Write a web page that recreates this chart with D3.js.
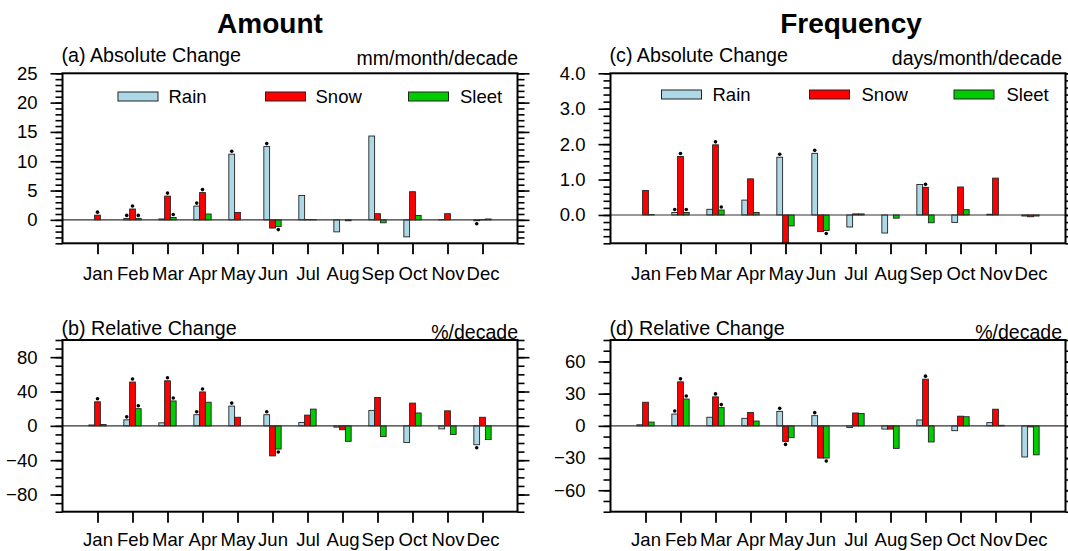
<!DOCTYPE html>
<html>
<head>
<meta charset="utf-8">
<script src="https://cdn.jsdelivr.net/npm/d3@7"></script>
<style>
  html, body { margin: 0; padding: 0; background: #fff; }
  svg { display: block; font-family: "Liberation Sans", Arial, Helvetica, sans-serif; }
</style>
</head>
<body>
<svg id="chart" width="1068" height="551"></svg>
<script>
// Month labels and precipitation types
const months = ["Jan","Feb","Mar","Apr","May","Jun","Jul","Aug","Sep","Oct","Nov","Dec"];
const seriesNames = ["Rain","Snow","Sleet"];
const seriesColors = ["#add8e6","#ff0000","#00cc00"];

// (a) Amount, absolute change (mm/month/decade)
const amountAbsRain  = [0, 0.25, 0.15, 2.35, 11.2, 12.5, 4.15, -2.05, 14.3, -2.9, 0.05, -0.15];
const amountAbsSnow  = [0.8, 1.85, 4.05, 4.65, 1.25, -1.4, 0.05, 0, 1.05, 4.8, 1.05, 0.05];
const amountAbsSleet = [0, 0.25, 0.4, 1.0, 0, -1.15, 0.05, -0.15, -0.5, 0.75, 0, 0.15];
const amountAbsSigRain  = [0,1,0,1,1,1,0,0,0,0,0,1];
const amountAbsSigSnow  = [1,1,1,1,0,0,0,0,0,0,0,0];
const amountAbsSigSleet = [0,1,1,0,0,1,0,0,0,0,0,0];

// (b) Amount, relative change (%/decade)
const amountRelRain  = [1, 7, 3.5, 13, 23, 13, 4, -1.5, 18, -19.5, -3.5, -22];
const amountRelSnow  = [28, 51, 52.5, 39.5, 10, -35, 12.5, -4.5, 33, 26.5, 17.5, 10];
const amountRelSleet = [1.5, 20, 29, 27.5, 0, -27, 19.5, -18, -12.5, 15, -10, -16];
const amountRelSigRain  = [0,1,0,1,1,1,0,0,0,0,0,1];
const amountRelSigSnow  = [1,1,1,1,0,0,0,0,0,0,0,0];
const amountRelSigSleet = [0,1,1,0,0,1,0,0,0,0,0,0];

// (c) Frequency, absolute change (days/month/decade)
const freqAbsRain  = [0, 0.07, 0.16, 0.42, 1.63, 1.74, -0.34, -0.51, 0.86, -0.21, 0.02, -0.03];
const freqAbsSnow  = [0.69, 1.65, 1.98, 1.02, -0.85, -0.47, 0.03, 0, 0.78, 0.79, 1.04, -0.05];
const freqAbsSleet = [0.01, 0.07, 0.14, 0.07, -0.31, -0.44, 0.03, -0.09, -0.22, 0.15, 0, -0.03];
const freqAbsSigRain  = [0,1,0,0,1,1,0,0,0,0,0,0];
const freqAbsSigSnow  = [0,1,1,0,0,0,0,0,1,0,0,0];
const freqAbsSigSleet = [0,1,1,0,0,1,0,0,0,0,0,0];

// (d) Frequency, relative change (%/decade)
const freqRelRain  = [1, 11, 8, 7, 13.5, 9.5, -1.5, -3, 5.5, -4.5, 3, -29];
const freqRelSnow  = [22, 41, 27, 12.5, -14.5, -30, 12, -3, 43.5, 9, 15.5, -1];
const freqRelSleet = [3.5, 25, 17, 4.5, -11, -30, 11.5, -21, -15, 8.5, 0.5, -27];
const freqRelSigRain  = [0,1,0,0,1,1,0,0,0,0,0,0];
const freqRelSigSnow  = [0,1,1,0,1,0,0,0,1,0,0,0];
const freqRelSigSleet = [0,1,1,0,0,1,0,0,0,0,0,0];

// Axis tick values
const amountAbsTicks = [0, 5, 10, 15, 20, 25];
const amountRelTicks = [-80, -40, 0, 40, 80];
const freqAbsTicks = [0, 1, 2, 3, 4];
const freqRelTicks = [-60, -30, 0, 30, 60];

const svg = d3.select("#chart");

const panels = [
  { id: "a", label: "(a) Absolute Change", unit: "mm/month/decade",
    values: [amountAbsRain, amountAbsSnow, amountAbsSleet],
    sig: [amountAbsSigRain, amountAbsSigSnow, amountAbsSigSleet],
    domain: [-4, 25], ticks: amountAbsTicks, minorStep: 1, fmt: d3.format("d"),
    x0: 62.5, x1: 517.5, y0: 73.3, y1: 243.3, legend: true,
    legendBoxes: [118, 265.5, 408.5], legendTexts: [168.5, 315.5, 460] , legendY: 92,
    labelY: 62, unitX: 518, unitY: 65, xLabelY: 280 },
  { id: "b", label: "(b) Relative Change", unit: "%/decade",
    values: [amountRelRain, amountRelSnow, amountRelSleet],
    sig: [amountRelSigRain, amountRelSigSnow, amountRelSigSleet],
    domain: [-100, 100], ticks: amountRelTicks, minorStep: 10, fmt: d3.format("d"),
    x0: 62.5, x1: 517.5, y0: 340, y1: 511.7, legend: false,
    labelY: 335, unitX: 518, unitY: 339, xLabelY: 546 },
  { id: "c", label: "(c) Absolute Change", unit: "days/month/decade",
    values: [freqAbsRain, freqAbsSnow, freqAbsSleet],
    sig: [freqAbsSigRain, freqAbsSigSnow, freqAbsSigSleet],
    domain: [-0.8, 4.0], ticks: freqAbsTicks, minorStep: 0.2, fmt: d3.format(".1f"),
    x0: 610.5, x1: 1065.5, y0: 73.3, y1: 243.3, legend: true,
    legendBoxes: [661.5, 809.5, 954], legendTexts: [712.5, 861.5, 1006.5], legendY: 90,
    labelY: 62, unitX: 1062, unitY: 65, xLabelY: 280 },
  { id: "d", label: "(d) Relative Change", unit: "%/decade",
    values: [freqRelRain, freqRelSnow, freqRelSleet],
    sig: [freqRelSigRain, freqRelSigSnow, freqRelSigSleet],
    domain: [-80, 80], ticks: freqRelTicks, minorStep: 10, fmt: d3.format("d"),
    x0: 610.5, x1: 1065.5, y0: 340, y1: 511.7, legend: false,
    labelY: 335, unitX: 1062, unitY: 339, xLabelY: 546 }
];

// Column titles
svg.append("text").attr("x", 270).attr("y", 33).attr("text-anchor", "middle")
  .attr("font-size", 28).attr("font-weight", "bold").text("Amount");
svg.append("text").attr("x", 851).attr("y", 33).attr("text-anchor", "middle")
  .attr("font-size", 28).attr("font-weight", "bold").text("Frequency");

const barW = 0.165;            // bar width in month units
const offsets = [-barW, 0, barW];

panels.forEach(p => {
  const g = svg.append("g");
  const x = d3.scaleLinear().domain([0, 13]).range([p.x0, p.x1]);
  const y = d3.scaleLinear().domain(p.domain).range([p.y1, p.y0]);

  const clipId = "clip-" + p.id;
  g.append("clipPath").attr("id", clipId).append("rect")
    .attr("x", p.x0).attr("y", p.y0).attr("width", p.x1 - p.x0).attr("height", p.y1 - p.y0);

  // Minor y ticks on both sides
  const minorVals = d3.range(Math.ceil(p.domain[0] / p.minorStep), Math.floor(p.domain[1] / p.minorStep + 1e-6) + 1)
    .map(k => +(k * p.minorStep).toFixed(6));
  const minorAxisL = d3.axisLeft(y).tickValues(minorVals).tickSize(7).tickFormat("");
  const minorAxisR = d3.axisRight(y).tickValues(minorVals).tickSize(7).tickFormat("");
  const majorAxisL = d3.axisLeft(y).tickValues(p.ticks).tickSize(12).tickPadding(13).tickFormat(p.fmt);
  const majorAxisR = d3.axisRight(y).tickValues(p.ticks).tickSize(12).tickFormat("");
  const xAxis = d3.axisBottom(x).tickValues(d3.range(1, 13)).tickSize(11).tickPadding(0)
    .tickFormat(d => months[d - 1]);

  [[minorAxisL, p.x0], [majorAxisL, p.x0], [minorAxisR, p.x1], [majorAxisR, p.x1]].forEach(([ax, tx]) => {
    const a = g.append("g").attr("transform", `translate(${tx},0)`).call(ax);
    a.select(".domain").remove();
    a.selectAll("line").attr("stroke", "#000").attr("stroke-width", 1.6);
    a.selectAll("text").attr("font-size", 18.5).attr("fill", "#000")
      .attr("font-family", "Liberation Sans, Arial, sans-serif");
  });

  const xa = g.append("g").attr("transform", `translate(0,${p.y1})`).call(xAxis);
  xa.select(".domain").remove();
  xa.selectAll("line").attr("stroke", "#000").attr("stroke-width", 1.8);
  xa.selectAll("text").attr("font-size", 18.5).attr("fill", "#000").attr("dy", null)
    .attr("y", p.xLabelY - p.y1).attr("font-family", "Liberation Sans, Arial, sans-serif");

  // Bars
  const bars = g.append("g").attr("clip-path", `url(#${clipId})`);
  p.values.forEach((vals, si) => {
    bars.selectAll(null).data(vals).enter().append("rect")
      .attr("x", (v, i) => x(i + 1 + offsets[si] - barW / 2))
      .attr("width", x(barW) - x(0))
      .attr("y", v => y(Math.max(0, v)))
      .attr("height", v => Math.abs(y(0) - y(v)))
      .attr("fill", seriesColors[si])
      .attr("stroke", "#222").attr("stroke-width", 0.9);
  });

  // Zero line
  g.append("line").attr("x1", p.x0).attr("x2", p.x1).attr("y1", y(0)).attr("y2", y(0))
    .attr("stroke", "#333").attr("stroke-width", 1.1);

  // Significance markers
  p.values.forEach((vals, si) => {
    const pts = vals.map((v, i) => ({ v, i })).filter(d => p.sig[si][d.i]);
    g.selectAll(null).data(pts).enter().append("circle")
      .attr("cx", d => x(d.i + 1 + offsets[si]))
      .attr("cy", d => d.v >= 0 ? y(d.v) - 3 : y(d.v) + 3)
      .attr("r", 1.8).attr("fill", "#000");
  });

  // Frame
  g.append("rect").attr("x", p.x0).attr("y", p.y0).attr("width", p.x1 - p.x0).attr("height", p.y1 - p.y0)
    .attr("fill", "none").attr("stroke", "#000").attr("stroke-width", 2);

  // Panel label and unit
  g.append("text").attr("x", p.x0 - 1).attr("y", p.labelY).attr("font-size", 19.7).text(p.label);
  g.append("text").attr("x", p.unitX).attr("y", p.unitY).attr("text-anchor", "end")
    .attr("font-size", 19.5).text(p.unit);

  // Legend
  if (p.legend) {
    seriesNames.forEach((name, si) => {
      g.append("rect").attr("x", p.legendBoxes[si]).attr("y", p.legendY).attr("width", 40).attr("height", 9)
        .attr("fill", seriesColors[si]).attr("stroke", "#222").attr("stroke-width", 1);
      g.append("text").attr("x", p.legendTexts[si]).attr("y", p.legendY + 11)
        .attr("font-size", 18.5).text(name);
    });
  }
});
</script>
</body>
</html>
